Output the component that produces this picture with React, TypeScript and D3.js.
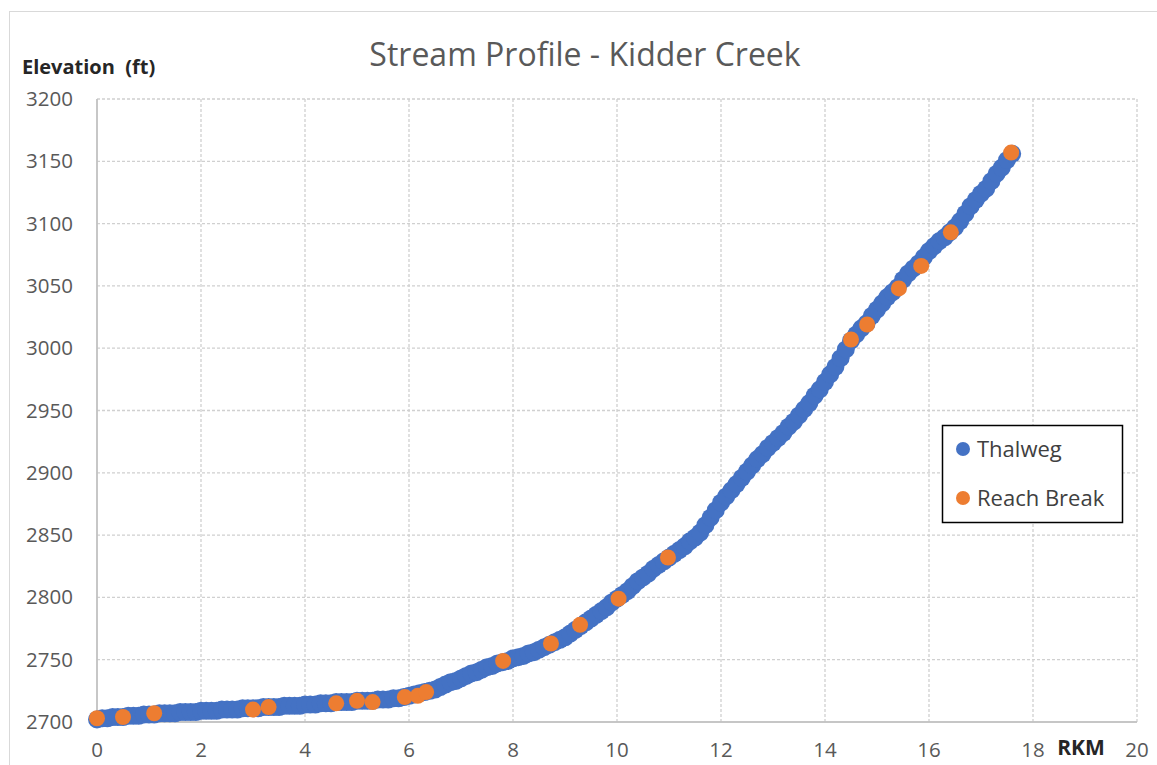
import React from "react";
import * as d3 from "d3";

const xTicks = [0, 2, 4, 6, 8, 10, 12, 14, 16, 18, 20];
const yTicks = [2700, 2750, 2800, 2850, 2900, 2950, 3000, 3050, 3100, 3150, 3200];

const thalweg: [number, number][] = [
  [0.0, 2702], [0.1, 2703], [0.2, 2703], [0.3, 2704], [0.4, 2704], [0.5, 2704], [0.6, 2705], [0.7, 2705],
  [0.8, 2705], [0.9, 2706], [1.0, 2706], [1.1, 2706], [1.2, 2707], [1.3, 2707], [1.4, 2707], [1.5, 2707],
  [1.6, 2708], [1.7, 2708], [1.8, 2708], [1.9, 2708], [2.0, 2709], [2.1, 2709], [2.2, 2709], [2.3, 2709],
  [2.4, 2710], [2.5, 2710], [2.6, 2710], [2.7, 2710], [2.8, 2711], [2.9, 2711], [3.0, 2711], [3.1, 2711],
  [3.2, 2712], [3.3, 2712], [3.4, 2712], [3.5, 2712], [3.6, 2713], [3.7, 2713], [3.8, 2713], [3.9, 2713],
  [4.0, 2714], [4.1, 2714], [4.2, 2714], [4.3, 2715], [4.4, 2715], [4.5, 2715], [4.6, 2716], [4.7, 2716],
  [4.8, 2716], [4.9, 2716], [5.0, 2717], [5.1, 2717], [5.2, 2717], [5.3, 2717], [5.4, 2718], [5.5, 2718],
  [5.6, 2718], [5.7, 2719], [5.8, 2719], [5.9, 2720], [6.0, 2721], [6.1, 2722], [6.2, 2723], [6.3, 2724],
  [6.4, 2725], [6.5, 2726], [6.6, 2728], [6.7, 2730], [6.8, 2732], [6.9, 2733], [7.0, 2735], [7.1, 2737],
  [7.2, 2739], [7.3, 2740], [7.4, 2742], [7.5, 2744], [7.6, 2745], [7.7, 2747], [7.8, 2748], [7.9, 2749],
  [8.0, 2751], [8.1, 2752], [8.2, 2753], [8.3, 2755], [8.4, 2756], [8.5, 2758], [8.6, 2760], [8.7, 2762],
  [8.8, 2764], [8.9, 2766], [9.0, 2768], [9.1, 2771], [9.2, 2774], [9.3, 2777], [9.4, 2780], [9.5, 2783],
  [9.6, 2786], [9.7, 2789], [9.8, 2792], [9.9, 2796], [10.0, 2799], [10.1, 2802], [10.2, 2805], [10.3, 2809],
  [10.4, 2813], [10.5, 2816], [10.6, 2819], [10.7, 2823], [10.8, 2826], [10.9, 2829], [11.0, 2832], [11.1, 2835],
  [11.2, 2838], [11.3, 2841], [11.4, 2845], [11.5, 2848], [11.6, 2852], [11.7, 2858], [11.8, 2864], [11.9, 2870],
  [12.0, 2876], [12.1, 2881], [12.2, 2886], [12.3, 2891], [12.4, 2896], [12.5, 2901], [12.6, 2906], [12.7, 2911],
  [12.8, 2915], [12.9, 2920], [13.0, 2924], [13.1, 2928], [13.2, 2932], [13.3, 2937], [13.4, 2941], [13.5, 2946],
  [13.6, 2951], [13.7, 2956], [13.8, 2962], [13.9, 2967], [14.0, 2973], [14.1, 2979], [14.2, 2985], [14.3, 2992],
  [14.4, 2999], [14.5, 3006], [14.6, 3011], [14.7, 3016], [14.8, 3020], [14.9, 3026], [15.0, 3031], [15.1, 3036],
  [15.2, 3041], [15.3, 3045], [15.4, 3049], [15.5, 3055], [15.6, 3060], [15.7, 3064], [15.8, 3068], [15.9, 3073],
  [16.0, 3078], [16.1, 3082], [16.2, 3086], [16.3, 3089], [16.4, 3093], [16.5, 3097], [16.6, 3102], [16.7, 3108],
  [16.8, 3114], [16.9, 3119], [17.0, 3124], [17.1, 3128], [17.2, 3134], [17.3, 3140], [17.4, 3145], [17.5, 3151],
  [17.6, 3156],
];

const reachBreaks: [number, number][] = [
  [0.0, 2703], [0.5, 2704], [1.1, 2707], [3.0, 2710], [3.3, 2712], [4.6, 2715], [5.0, 2717], [5.3, 2716],
  [5.92, 2720], [6.17, 2721], [6.33, 2724], [7.81, 2749], [8.73, 2763], [9.29, 2778], [10.03, 2799],
  [10.98, 2832], [14.5, 3007], [14.81, 3019], [15.42, 3048], [15.85, 3066], [16.42, 3093], [17.58, 3157],
];

const BLUE = "#4472C4";
const ORANGE = "#ED7D31";
const FONT = "'Open Sans', 'Noto Sans', sans-serif";

export default function App() {
  const W = 1157, H = 765;
  const left = 97, right = 1137, top = 99, bottom = 722;
  const x = d3.scaleLinear().domain([0, 20]).range([left, right]);
  const y = d3.scaleLinear().domain([2700, 3200]).range([bottom, top]);

  return (
    <svg width={W} height={H} style={{ position: "absolute", left: 0, top: 0, background: "#fff" }}>
      <rect x={9.5} y={11.5} width={1200} height={800} fill="#fff" stroke="#d9d9d9" />
      {yTicks.map((t) => (
        <line key={"gy" + t} x1={left} x2={right} y1={y(t)} y2={y(t)}
          stroke="#d0d0d0" strokeWidth={1.3} strokeDasharray={t === 2700 ? undefined : "3,2"} />
      ))}
      {xTicks.map((t) => (
        <line key={"gx" + t} x1={x(t)} x2={x(t)} y1={top} y2={bottom}
          stroke="#d0d0d0" strokeWidth={1.3} strokeDasharray={t === 0 ? undefined : "3,2"} />
      ))}
      <line x1={left} x2={right} y1={bottom} y2={bottom} stroke="#bfbfbf" strokeWidth={1.5} />
      <line x1={left} x2={left} y1={top} y2={bottom} stroke="#bfbfbf" strokeWidth={1.5} />

      {yTicks.map((t) => (
        <text key={"ly" + t} x={73} y={y(t) + 7} textAnchor="end" fontFamily={FONT} fontSize={20.5} fill="#595959">
          {t}
        </text>
      ))}
      {xTicks.map((t) => (
        <text key={"lx" + t} x={x(t)} y={757} textAnchor="middle" fontFamily={FONT} fontSize={20.5} fill="#595959">
          {t}
        </text>
      ))}

      <g>
        {thalweg.map(([k, e], i) => (
          <circle key={"t" + i} cx={x(k)} cy={y(e)} r={9} fill={BLUE} />
        ))}
      </g>
      <g>
        {reachBreaks.map(([k, e], i) => (
          <circle key={"r" + i} cx={x(k)} cy={y(e)} r={8} fill={ORANGE} />
        ))}
      </g>

      <text x={585} y={66} textAnchor="middle" fontFamily={FONT} fontSize={32} fill="#595959">
        Stream Profile - Kidder Creek
      </text>
      <text x={22} y={74} fontFamily={FONT} fontSize={20} fontWeight="bold" fill="#262626" style={{ whiteSpace: "pre" }}>
        {"Elevation  (ft)"}
      </text>
      <text x={1081} y={755} textAnchor="middle" fontFamily={FONT} fontSize={21} fontWeight="bold" fill="#262626">
        RKM
      </text>

      <rect x={942.5} y={425.5} width={180} height={97} fill="#fff" stroke="#000" strokeWidth={1.5} />
      <circle cx={963} cy={449} r={7} fill={BLUE} />
      <text x={977} y={457} fontFamily={FONT} fontSize={22} fill="#404040">Thalweg</text>
      <circle cx={963} cy={498} r={7} fill={ORANGE} />
      <text x={977} y={506} fontFamily={FONT} fontSize={22} fill="#404040">Reach Break</text>
    </svg>
  );
}
